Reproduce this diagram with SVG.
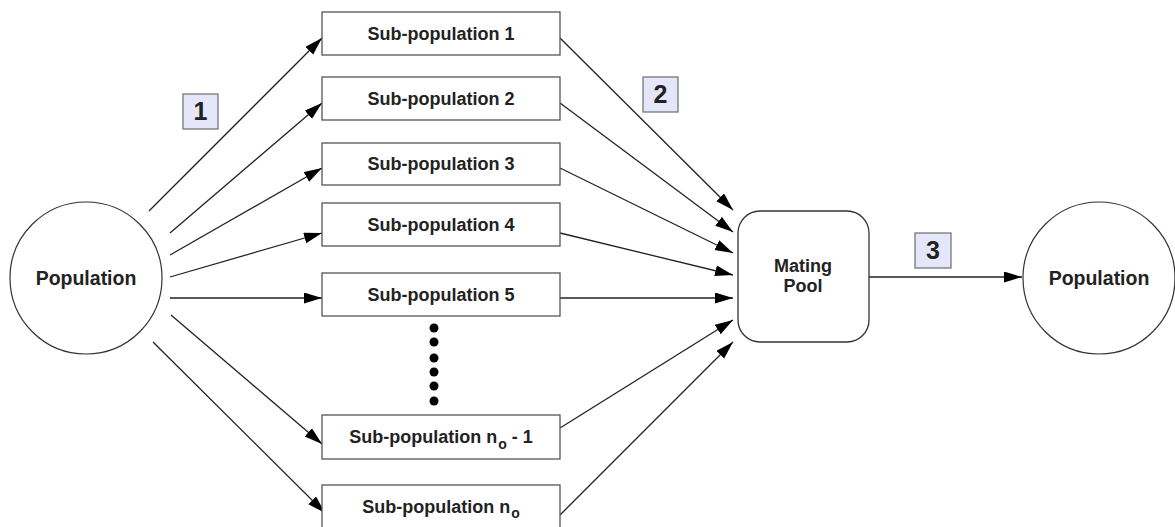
<svg xmlns="http://www.w3.org/2000/svg" width="1175" height="527" viewBox="0 0 1175 527">
<style>
.t{font-family:"Liberation Sans",Arial,sans-serif;font-weight:bold;fill:#222;text-anchor:middle}
.box{fill:#fff;stroke:#555;stroke-width:1.3}
.circ{fill:#fff;stroke:#333;stroke-width:1.2}
.num{fill:#e6e6fa;stroke:#777;stroke-width:1.3}
.c{stroke:#222;stroke-width:1.3;fill:none;marker-end:url(#ah)}
</style>
<defs>
<marker id="ah" markerUnits="userSpaceOnUse" markerWidth="19" markerHeight="12" refX="18" refY="5.5" orient="auto">
<path d="M0,0 L18,5.5 L0,11 z" fill="#000"/>
</marker>
</defs>
<rect width="1175" height="527" fill="#fff"/>
<g id="connectors">
<line class="c" x1="149" y1="211" x2="322" y2="38"/>
<line class="c" x1="170" y1="233" x2="322" y2="103"/>
<line class="c" x1="170" y1="255" x2="322" y2="168"/>
<line class="c" x1="170" y1="277" x2="322" y2="233"/>
<line class="c" x1="170" y1="298" x2="322" y2="298"/>
<line class="c" x1="171" y1="315" x2="322" y2="444"/>
<line class="c" x1="153" y1="342" x2="325" y2="513"/>
<line class="c" x1="560" y1="38" x2="733" y2="210"/>
<line class="c" x1="560" y1="103" x2="733" y2="232"/>
<line class="c" x1="560" y1="168" x2="733" y2="253"/>
<line class="c" x1="560" y1="233" x2="733" y2="275"/>
<line class="c" x1="560" y1="298" x2="733" y2="298"/>
<line class="c" x1="560" y1="428" x2="733" y2="320"/>
<line class="c" x1="560" y1="515" x2="733" y2="342"/>
<line class="c" x1="869" y1="277" x2="1022" y2="277"/>
</g>
<g id="pop-left">
<circle class="circ" cx="86" cy="278" r="76"/>
<text class="t" x="86" y="285" font-size="19.5">Population</text>
</g>
<g id="sub1"><rect class="box" x="322" y="12" width="238" height="43"/><text class="t" x="441" y="40" font-size="18">Sub-population 1</text></g>
<g id="sub2"><rect class="box" x="322" y="77" width="238" height="43"/><text class="t" x="441" y="105" font-size="18">Sub-population 2</text></g>
<g id="sub3"><rect class="box" x="322" y="143" width="238" height="42"/><text class="t" x="441" y="170" font-size="18">Sub-population 3</text></g>
<g id="sub4"><rect class="box" x="322" y="203" width="238" height="43"/><text class="t" x="441" y="231" font-size="18">Sub-population 4</text></g>
<g id="sub5"><rect class="box" x="322" y="273" width="238" height="43"/><text class="t" x="441" y="301" font-size="18">Sub-population 5</text></g>
<g id="dots" fill="#000">
<circle cx="434" cy="328" r="4.5"/><circle cx="434" cy="342" r="4.5"/><circle cx="434" cy="358" r="4.5"/>
<circle cx="434" cy="372" r="4.5"/><circle cx="434" cy="386" r="4.5"/><circle cx="434" cy="401" r="4.5"/>
</g>
<g id="subn1"><rect class="box" x="322" y="415" width="238" height="44"/><text class="t" x="441" y="443" font-size="18">Sub-population n<tspan font-size="14" dx="1" dy="6">o</tspan><tspan dy="-6"> - 1</tspan></text></g>
<g id="subn"><rect class="box" x="322" y="485" width="238" height="43"/><text class="t" x="441" y="513" font-size="18">Sub-population n<tspan font-size="14" dx="1" dy="5">o</tspan></text></g>
<g id="mating"><rect class="box" x="738" y="211" width="131" height="131" rx="22" style="stroke:#333"/>
<text class="t" x="803" y="272" font-size="18">Mating</text><text class="t" x="803" y="292" font-size="18">Pool</text></g>
<g id="pop-right">
<circle class="circ" cx="1099" cy="278" r="76"/>
<text class="t" x="1099" y="285" font-size="19.5">Population</text>
</g>
<g id="label1"><rect class="num" x="183" y="94" width="35" height="35"/><text class="t" x="200.5" y="120" font-size="25">1</text></g>
<g id="label2"><rect class="num" x="643" y="77" width="35" height="35"/><text class="t" x="660.5" y="103" font-size="25">2</text></g>
<g id="label3"><rect class="num" x="915" y="233" width="36" height="35"/><text class="t" x="933" y="259" font-size="25">3</text></g>
</svg>
